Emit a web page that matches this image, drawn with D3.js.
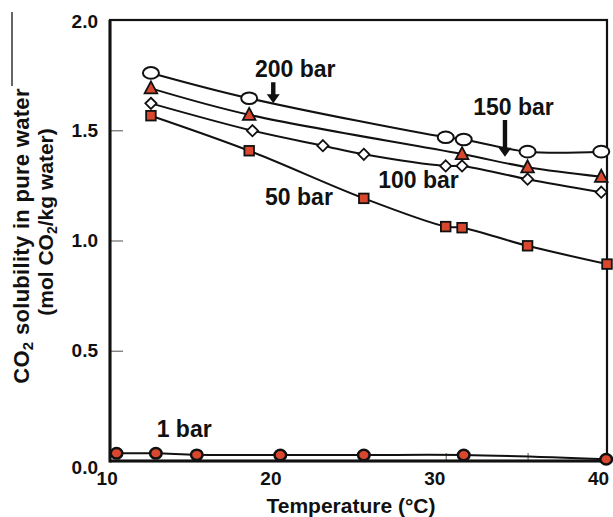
<!DOCTYPE html>
<html><head><meta charset="utf-8">
<script src="https://cdn.jsdelivr.net/npm/d3@7"></script>
<style>
html,body{margin:0;padding:0;background:#fff;}
svg{display:block;font-family:Arial,"Liberation Sans",Helvetica,sans-serif;}
</style></head>
<body>
<svg id="chart" width="613" height="517"></svg>
<script>
// ---- data ----
const temps200 = [12, 18, 30, 31.1, 35, 39.5];
const sol200   = [1.76, 1.645, 1.468, 1.458, 1.403, 1.403];
const temps150 = [12, 18, 31, 35, 39.5];
const sol150   = [1.69, 1.57, 1.392, 1.332, 1.289];
const temps100 = [12, 18.2, 22.5, 25, 30, 31, 35, 39.5];
const sol100   = [1.622, 1.498, 1.43, 1.391, 1.338, 1.338, 1.278, 1.219];
const temps50  = [12, 18, 25, 30, 31, 35, 39.85];
const sol50    = [1.566, 1.407, 1.191, 1.063, 1.058, 0.976, 0.893];
const temps1   = [9.9, 12.3, 14.8, 19.9, 25, 31.1, 39.8];
const sol1     = [0.035, 0.035, 0.028, 0.027, 0.027, 0.027, 0.008];

const yTicks = [0.0, 0.5, 1.0, 1.5, 2.0];
const xTickLabels = [10, 20, 30, 40];
const xMinorTicks = [10, 15, 20, 25, 30, 35];

const seriesLabels = [
  {text: "200 bar", t: 18.35, v: 1.743},
  {text: "150 bar", t: 31.68, v: 1.569},
  {text: "100 bar", t: 25.88, v: 1.237},
  {text: "50 bar",  t: 18.97, v: 1.161},
  {text: "1 bar",   t: 12.35, v: 0.110}
];
const arrows = [
  {t: 19.47, v0: 1.718, v1: 1.622},
  {t: 33.62, v0: 1.546, v1: 1.380}
];

const RED = "#d9472f";
const svg = d3.select("#chart");
const L = 110, R = 607, T = 20, B = 461;
const x = d3.scaleLinear().domain([9.5, 39.85]).range([L, R]);
const y = d3.scaleLinear().domain([0, 2]).range([B, T]);

// left crop border artefact
svg.append("line").attr("x1", 12).attr("x2", 12).attr("y1", 12).attr("y2", 86)
  .attr("stroke", "#333").attr("stroke-width", 1.5);

// y axis ticks (inward, grey) + labels
const yAxis = d3.axisLeft(y).tickValues(yTicks).tickFormat(d3.format(".1f"))
  .tickSizeInner(-13).tickSizeOuter(0).tickPadding(12);
const gy = svg.append("g").attr("transform", `translate(${L},0)`).call(yAxis);
gy.select(".domain").remove();
gy.selectAll(".tick line").attr("stroke", "#777").attr("stroke-width", 1.3)
  .filter(d => d === 0 || d === 2).remove();
gy.selectAll(".tick text").attr("font-size", 19).attr("font-weight", "bold")
  .attr("fill", "#111").attr("font-family", "Arial, 'Liberation Sans', sans-serif")
  .attr("dy", d => d === 0 ? "0.65em" : (d === 2 ? "0.42em" : "0.32em"));

// x axis minor ticks (inward)
const xAxis = d3.axisBottom(x).tickValues(xMinorTicks).tickFormat("")
  .tickSizeInner(-8).tickSizeOuter(0);
const gx = svg.append("g").attr("transform", `translate(0,${B})`).call(xAxis);
gx.select(".domain").remove();
gx.selectAll(".tick line").attr("stroke", "#555").attr("stroke-width", 1);

// x tick labels
svg.append("g").selectAll("text").data(xTickLabels).join("text")
  .attr("x", d => x(d) - 11).attr("y", 485)
  .attr("text-anchor", "middle").attr("font-size", 19).attr("font-weight", "bold")
  .attr("fill", "#111").text(d => d);

// frame
svg.append("rect").attr("x", L).attr("y", T).attr("width", R - L).attr("height", B - T)
  .attr("fill", "none").attr("stroke", "#111").attr("stroke-width", 2.2);
svg.append("line").attr("x1", L).attr("x2", L).attr("y1", T).attr("y2", B + 1.5)
  .attr("stroke", "#111").attr("stroke-width", 3);
svg.append("line").attr("x1", L).attr("x2", R).attr("y1", B).attr("y2", B)
  .attr("stroke", "#111").attr("stroke-width", 3);

// curves
const line = d3.line().x(d => x(d[0])).y(d => y(d[1])).curve(d3.curveCatmullRom.alpha(0.5));
const zipped = (ts, vs) => ts.map((t, i) => [t, vs[i]]);
const d200 = zipped(temps200, sol200), d150 = zipped(temps150, sol150),
      d100 = zipped(temps100, sol100), d50 = zipped(temps50, sol50), d1 = zipped(temps1, sol1);
[d1, d50, d100, d150, d200].forEach(d => {
  svg.append("path").datum(d).attr("d", line).attr("fill", "none")
    .attr("stroke", "#111").attr("stroke-width", 2);
});

// markers
svg.append("g").selectAll("rect").data(d50).join("rect")
  .attr("x", d => x(d[0]) - 4.8).attr("y", d => y(d[1]) - 4.8).attr("width", 9.6).attr("height", 9.6)
  .attr("fill", RED).attr("stroke", "#111").attr("stroke-width", 1.8);
svg.append("g").selectAll("path").data(d100).join("path")
  .attr("transform", d => `translate(${x(d[0])},${y(d[1])})`)
  .attr("d", "M0,-5.6L5.6,0L0,5.6L-5.6,0Z")
  .attr("fill", "#fff").attr("stroke", "#111").attr("stroke-width", 1.8);
svg.append("g").selectAll("path").data(d150).join("path")
  .attr("transform", d => `translate(${x(d[0])},${y(d[1])})`)
  .attr("d", "M0,-7L6.3,5L-6.3,5Z")
  .attr("fill", RED).attr("stroke", "#111").attr("stroke-width", 1.8);
svg.append("g").selectAll("ellipse").data(d200).join("ellipse")
  .attr("cx", d => x(d[0])).attr("cy", d => y(d[1])).attr("rx", 8).attr("ry", 5.8)
  .attr("fill", "#fff").attr("stroke", "#111").attr("stroke-width", 2);
svg.append("g").selectAll("ellipse").data(d1).join("ellipse")
  .attr("cx", d => x(d[0])).attr("cy", d => y(d[1])).attr("rx", 5.8).attr("ry", 5.2)
  .attr("fill", RED).attr("stroke", "#111").attr("stroke-width", 2.5);

// arrows
arrows.forEach(a => {
  const ax = x(a.t), y0 = y(a.v0), y1 = y(a.v1);
  svg.append("path")
    .attr("d", `M${ax - 2.2},${y0}L${ax + 2.2},${y0}L${ax + 2.2},${y1 - 9}L${ax + 6.5},${y1 - 9}L${ax},${y1}L${ax - 6.5},${y1 - 9}L${ax - 2.2},${y1 - 9}Z`)
    .attr("fill", "#111");
});

// series labels
svg.append("g").selectAll("text").data(seriesLabels).join("text")
  .attr("x", d => x(d.t)).attr("y", d => y(d.v))
  .attr("font-size", 23).attr("font-weight", "bold").attr("fill", "#111")
  .text(d => d.text);

// axis titles
svg.append("text").attr("x", 351).attr("y", 513).attr("text-anchor", "middle")
  .attr("font-size", 21).attr("font-weight", "bold").attr("fill", "#111")
  .text("Temperature (°C)");

const t1 = svg.append("text").attr("transform", "translate(29,236) rotate(-90)")
  .attr("text-anchor", "middle").attr("font-size", 22).attr("font-weight", "bold")
  .attr("letter-spacing", 0.3).attr("fill", "#111");
t1.append("tspan").text("CO");
t1.append("tspan").attr("font-size", 15).attr("dy", 4).text("2");
t1.append("tspan").attr("dy", -4).text(" solubility in pure water");

const t2 = svg.append("text").attr("transform", "translate(53,222) rotate(-90)")
  .attr("text-anchor", "middle").attr("font-size", 21).attr("font-weight", "bold").attr("fill", "#111");
t2.append("tspan").text("(mol CO");
t2.append("tspan").attr("font-size", 14).attr("dy", 4).text("2");
t2.append("tspan").attr("dy", -4).text("/kg water)");
</script>
</body></html>
